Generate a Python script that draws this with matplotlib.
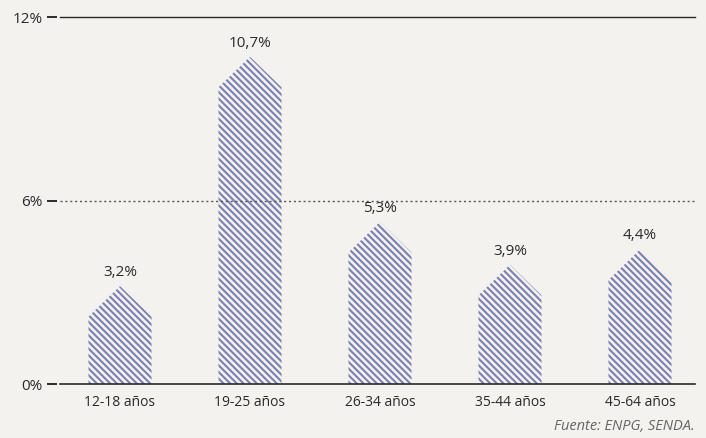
import matplotlib.pyplot as plt
from matplotlib.patches import Polygon

categories = ["12-18 años", "19-25 años", "26-34 años", "35-44 años", "45-64 años"]
values = [3.2, 10.7, 5.3, 3.9, 4.4]
value_labels = ["3,2%", "10,7%", "5,3%", "3,9%", "4,4%"]
y_ticks = [0, 6, 12]
y_tick_labels = ["0%", "6%", "12%"]

bg = "#f3f2ee"
hatch_col = "#7b80b3"
ink = "#2a2a2a"

plt.rcParams['font.family'] = ['Open Sans', 'DejaVu Sans']
plt.rcParams['hatch.linewidth'] = 1.5

fig = plt.figure(figsize=(7.06, 4.38), dpi=100, facecolor=bg)
# axes left edge at 57px, right at 695px; 0% at y=384px, 12% at y=17px
ax = fig.add_axes([57 / 706, 54 / 438, 638 / 706, 367 / 438], facecolor=bg)

width = 0.485
roof = 1.0  # height of the pointed top, in %
for i, v in enumerate(values):
    x0, x1 = i - width / 2, i + width / 2
    pts = [(x0, 0), (x0, v - roof), (i, v), (x1, v - roof), (x1, 0)]
    ax.add_patch(Polygon(pts, closed=True, facecolor="none",
                         edgecolor=hatch_col, linewidth=0, hatch="\\\\\\\\\\"))
    ax.text(i, v + 0.2, value_labels[i], ha="center", va="bottom",
            fontsize=11, color=ink)

ax.set_xlim(-63 / 130, 575 / 130)
ax.set_ylim(0, 12)

# horizontal rules, starting a little right of the tick dashes
start = 3 / 638
ax.axhline(12, xmin=start, color=ink, lw=1.0, clip_on=False)
ax.axhline(6, xmin=start, color="#555555", lw=1.0, ls=(0, (1.5, 2)), clip_on=False)
ax.axhline(0, xmin=start, color=ink, lw=1.2, clip_on=False, zorder=3)

for s in ax.spines.values():
    s.set_visible(False)

ax.set_yticks(y_ticks)
ax.set_yticklabels(y_tick_labels)
ax.tick_params(axis="y", length=7.2, width=1.4, color=ink, pad=3,
               labelsize=11, labelcolor=ink)
ax.set_xticks(range(len(categories)))
ax.set_xticklabels(categories)
ax.tick_params(axis="x", length=0, pad=8, labelsize=10, labelcolor=ink)

fig.text(695 / 706, 1 - 426 / 438, "Fuente: ENPG, SENDA.", ha="right", va="center",
         fontsize=10.5, style="italic", color="#666666")

fig.savefig("out.png", dpi=100, facecolor=bg)
